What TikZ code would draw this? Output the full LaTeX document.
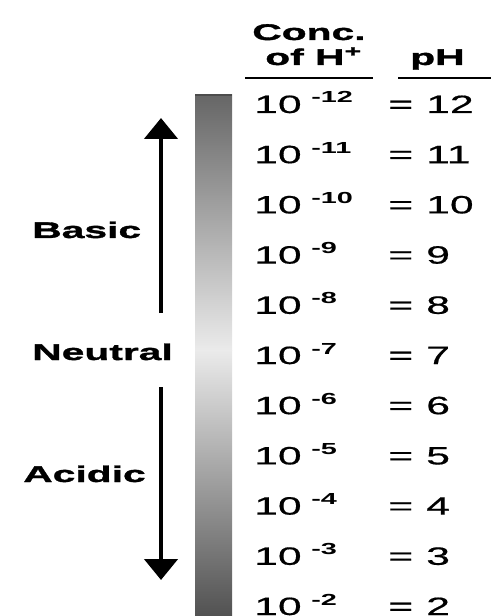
\documentclass[tikz,border=0pt]{standalone}
\usepackage{fontspec}
\newfontfamily\numfont[FakeStretch=1.7,FakeBold=0.6]{Liberation Sans}
\newfontfamily\supfont[FakeStretch=1.8]{Liberation Sans}
\newfontfamily\headfont[FakeStretch=1.8,FakeBold=1.5]{Liberation Sans}
\usetikzlibrary{arrows.meta}
\tikzset{
  num/.style={inner sep=0pt, anchor=base west, font=\numfont\fontsize{18.8}{20}\selectfont},
  expo/.style={inner sep=0pt, anchor=base west, font=\supfont\bfseries\fontsize{12}{13}\selectfont},
  side/.style={inner sep=0pt, anchor=base west, font=\headfont\bfseries\fontsize{17}{18}\selectfont},
  rule/.style={line width=1.2pt},
  bigarrow/.style={line width=3.5pt, -{Triangle[width=24.75pt,length=15.75pt]}},
}
\begin{document}
\begin{tikzpicture}[x=0.75pt,y=-0.75pt]
\useasboundingbox (0,0) rectangle (491,616);
% Grey scale bar
\shade[top color=black!60, bottom color=black!8] (195,95) rectangle (232,350);
\shade[top color=black!8, bottom color=black!68] (195,350) rectangle (232,616);
\draw[black!70, line width=1pt] (195,95) -- (232,95);

% Column heads
\node[side] (conc) at (252,40) {Conc.};
\node[side] (ofh) at (265,65) {of H\textsuperscript{+}};
\node[side] (phhead) at (410,65) {pH};
\draw[rule] (245,78) -- (373,78);
\draw[rule] (398,78) -- (491,78);

% Rows
\foreach \i in {0,...,10} {
  \pgfmathtruncatemacro\e{12-\i}
  \node[num] (ten\i) at (254,113+50.2*\i) {10};
  \node[expo] (exp\i) at (311,103+50.2*\i) {-\e};
  \node[num] (eq\i) at (388,113+50.2*\i) {=};
  \node[num] (val\i) at (426,113+50.2*\i) {\e};
}

% Side labels
\node[side] (basic) at (32,238) {Basic};
\node[side] (neutral) at (32,360) {Neutral};
\node[side] (acidic) at (23,482) {Acidic};

% Arrows
\coordinate (basictail) at (161,313);
\coordinate (basictip) at (161,118);
\coordinate (acidtail) at (161,387);
\coordinate (acidtip) at (161,580);
\draw[bigarrow] (basictail) -- (basictip);
\draw[bigarrow] (acidtail) -- (acidtip);
\end{tikzpicture}
\end{document}
